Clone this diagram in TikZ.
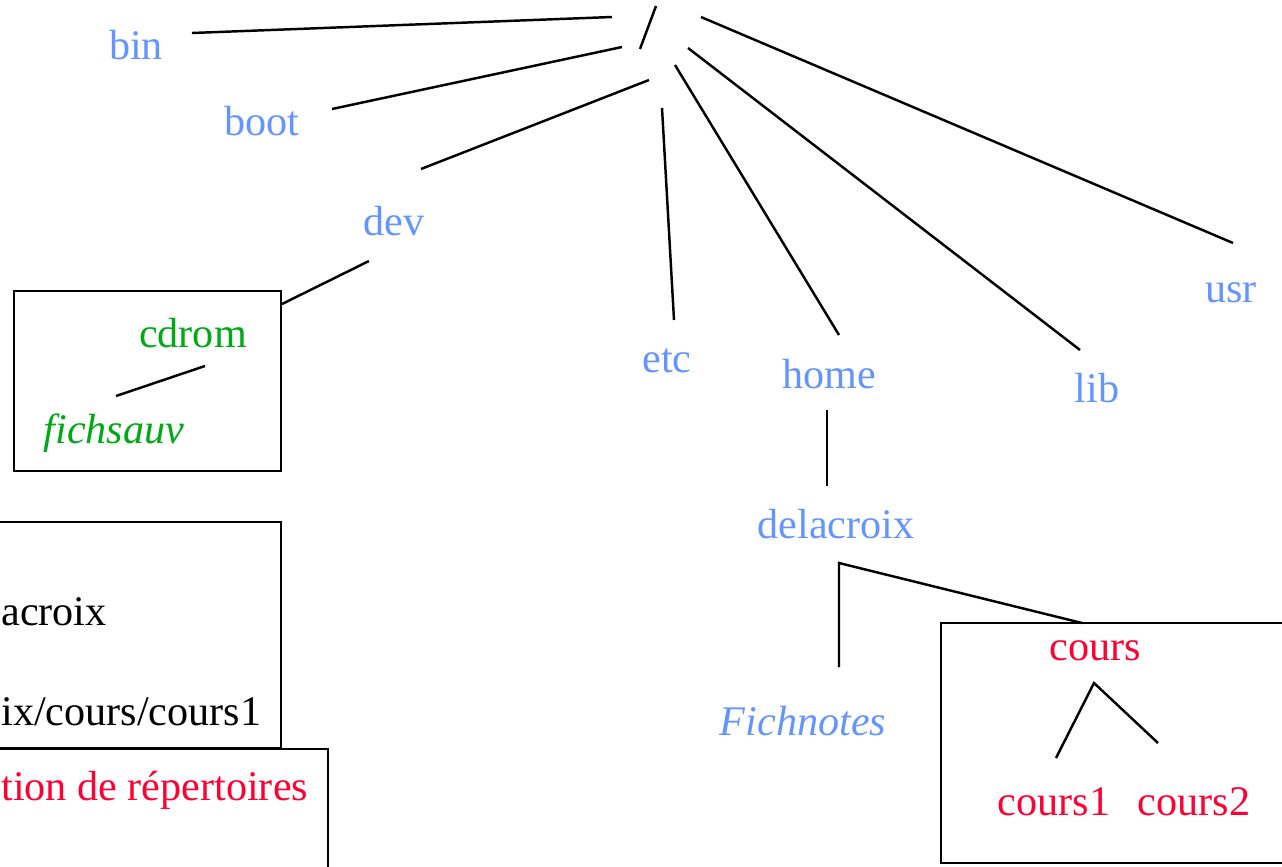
\documentclass[tikz,border=0pt]{standalone}
\usepackage{fontspec}
\setmainfont{Liberation Serif}
\usetikzlibrary{positioning}
\definecolor{dirblue}{RGB}{100,149,255}
\definecolor{cdgreen}{RGB}{0,170,20}
\definecolor{crsred}{RGB}{255,0,51}
\tikzset{
  lb/.style={font=\fontsize{24}{28}\selectfont, inner sep=0pt, anchor=base},
  lbit/.style={font=\fontsize{24}{28}\selectfont\itshape},
  dir/.style={lb, text=dirblue},
  cd/.style={lb, text=cdgreen},
  crs/.style={lb, text=crsred},
  txt/.style={lb, anchor=base west, text=black},
  ln/.style={line width=1.4pt},
  bx/.style={draw=black, line width=1.4pt}
}

\begin{document}
\begin{tikzpicture}[x=0.02cm, y=-0.02cm]
	\clip (0,0) rectangle (1282,866);
	
	% boxes
	\draw[bx] (14,291) rectangle (281,471);
	\draw[bx] (-20,522) rectangle (281,748);
	\draw[bx] (-20,749) rectangle (328,900);
	\draw[bx] (941,623) rectangle (1300,863);
	
	% directories
	\node[dir] (bin) at (136,59) {bin};
	\node[dir] (boot) at (262,135) {boot};
	\node[dir] (dev) at (394,235) {dev};
	\node[dir] (etc) at (667,372) {etc};
	\node[dir] (home) at (829,388) {home};
	\node[dir] (lib) at (1097,402) {lib};
	\node[dir] (usr) at (1231,302) {usr};
	\node[dir] (delacroix) at (836,538) {delacroix};
	\node[dir, lbit] (fichnotes) at (803,735) {Fichnotes};
	\node[cd] (cdrom) at (193,347) {cdrom};
	\node[cd, lbit] (fichsauv) at (114,443) {fichsauv};
	\node[crs] (cours) at (1095,660) {cours};
	\node[crs] (cours1) at (1054,815) {cours1};
	\node[crs] (cours2) at (1194,815) {cours2};
	\node[txt] (chemin1) at (1,625) {acroix};
	\node[txt] (chemin2) at (1,725) {ix/cours/cours1};
	\node[txt, text=crsred] (titre) at (1,800) {tion de répertoires};
	
	% root
	\coordinate (root-t) at (656,6);
	\coordinate (root-b) at (640,49);
	\draw[ln] (root-t) -- (root-b);
	
	% ends of the connectors
	\coordinate (bin-a) at (192,33);   \coordinate (bin-b) at (612,17);
	\coordinate (boot-a) at (332,109); \coordinate (boot-b) at (622,47);
	\coordinate (dev-a) at (421,169);  \coordinate (dev-b) at (649,80);
	\coordinate (etc-a) at (674,320);  \coordinate (etc-b) at (662,108);
	\coordinate (home-a) at (839,335); \coordinate (home-b) at (675,65);
	\coordinate (lib-a) at (1080,350); \coordinate (lib-b) at (688,48);
	\coordinate (usr-a) at (1233,243); \coordinate (usr-b) at (701,17);
	\coordinate (cd-a) at (282,304);   \coordinate (cd-b) at (369,261);
	\coordinate (fs-a) at (116,396);   \coordinate (fs-b) at (205,366);
	\coordinate (dl-a) at (827,486);   \coordinate (dl-b) at (827,410);
	\coordinate (fn-a) at (839,667);   \coordinate (fn-k) at (839,563);
	\coordinate (cr-a) at (1082,623);
	\coordinate (c1-a) at (1056,758);  \coordinate (cr-t) at (1094,683);
	\coordinate (c2-a) at (1158,743);
	
	\draw[ln] (bin-a) -- (bin-b);
	\draw[ln] (boot-a) -- (boot-b);
	\draw[ln] (dev-a) -- (dev-b);
	\draw[ln] (etc-a) -- (etc-b);
	\draw[ln] (home-a) -- (home-b);
	\draw[ln] (lib-a) -- (lib-b);
	\draw[ln] (usr-a) -- (usr-b);
	\draw[ln] (cd-a) -- (cd-b);
	\draw[ln] (fs-a) -- (fs-b);
	\draw[ln] (dl-a) -- (dl-b);
	\draw[ln] (fn-a) -- (fn-k) -- (cr-a);
	\draw[ln] (c1-a) -- (cr-t) -- (c2-a);
\end{tikzpicture}
\end{document}
